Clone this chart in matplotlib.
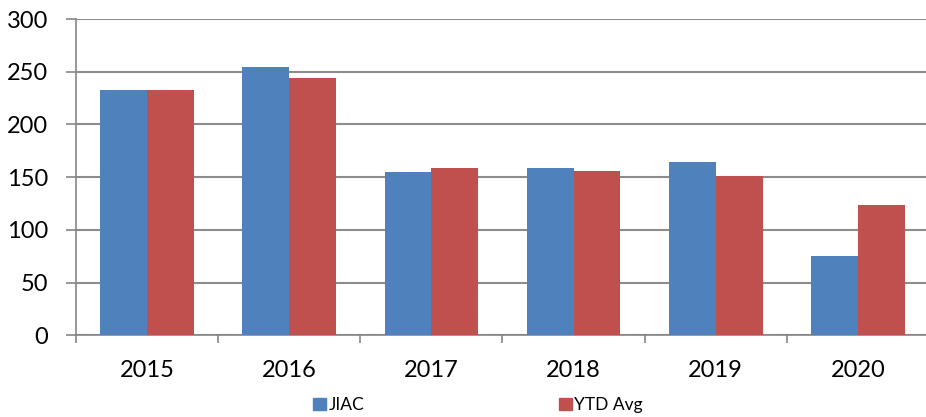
import numpy as np
import matplotlib.pyplot as plt
from matplotlib.patches import Patch

# Dati
anni = ['2015', '2016', '2017', '2018', '2019', '2020']
jiac = [233, 254, 155, 159, 164, 75]
ytd_avg = [233, 244, 159, 156, 151, 124]

plt.rcParams['font.family'] = ['Lato', 'DejaVu Sans']

fig = plt.figure(figsize=(9.26, 4.17), dpi=100)
ax = fig.add_axes([76 / 926, 1 - 335.3 / 417, 853 / 926, 316.3 / 417])

x = np.arange(len(anni))
w = 0.33
blu = '#4F81BD'
rosso = '#C0504D'
ax.bar(x - w / 2, jiac, width=w, color=blu, zorder=3)
ax.bar(x + w / 2, ytd_avg, width=w, color=rosso, zorder=3)

ax.set_xlim(-0.5, len(anni) - 0.5)
ax.set_ylim(0, 300)
ax.set_yticks(range(0, 301, 50))
ax.yaxis.grid(True, color='#8c8c8c', linewidth=1.5, zorder=0)
ax.set_axisbelow(True)

# tacche di categoria sui confini
ax.set_xticks(np.arange(-0.5, len(anni) - 0.4, 1))
ax.set_xticklabels([])
ax.set_xticks(x, minor=True)
ax.set_xticklabels(anni, minor=True)
ax.tick_params(axis='x', which='minor', length=0, pad=18, labelsize=17)
ax.tick_params(axis='x', which='major', length=6, width=1.2, color='#868686')
ax.tick_params(axis='y', length=7, width=1.2, color='#868686', pad=13, labelsize=17)

for s in ['top', 'right']:
    ax.spines[s].set_visible(False)
for s in ['left', 'bottom']:
    ax.spines[s].set_color('#868686')
    ax.spines[s].set_linewidth(1.2)

handles = [Patch(color=blu, label='JIAC'), Patch(color=rosso, label='YTD Avg')]
fig.legend(handles=handles, loc='center', bbox_to_anchor=(478 / 926, 1 - 405 / 417),
           ncol=2, frameon=False, fontsize=12.5, handlelength=0.75, handleheight=0.75,
           handletextpad=0.15, columnspacing=11.2)

fig.savefig('out.png', dpi=100)
